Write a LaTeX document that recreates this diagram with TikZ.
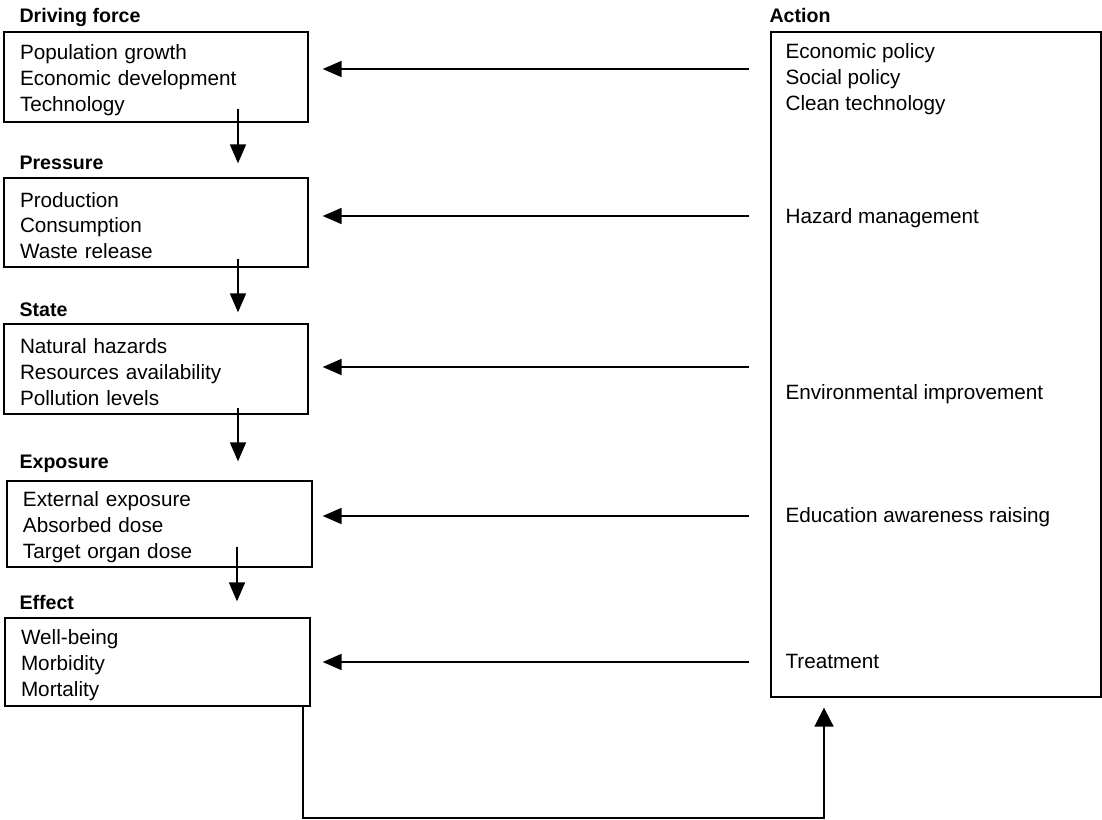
\documentclass[tikz,border=0pt]{standalone}
\usepackage{fontspec}
\setmainfont{Liberation Sans}
\usetikzlibrary{calc, arrows.meta}

\newcommand{\itemfont}{\fontsize{20.7}{25.8}\selectfont}
\newcommand{\headfont}{\fontsize{19.6}{24}\selectfont\bfseries}

\begin{document}
\begin{tikzpicture}[x=1pt, y=-1pt]

    \tikzstyle{box}=[draw=black, line width=1.3pt, rectangle, inner xsep=16pt, inner ysep=0pt, text width=272pt, align=left, font=\itemfont, execute at begin node={\rule{0pt}{21pt}}];
    \tikzstyle{head}=[anchor=base west, inner sep=0pt, font=\headfont];
    \tikzstyle{item}=[anchor=north west, inner sep=0pt, align=left, font=\itemfont];
    \tikzstyle{link}=[line width=1.8pt, -{Triangle[length=19pt, width=16pt]}];

    \useasboundingbox (0,0) rectangle (1102,819);

    \node[box, minimum height=90pt] (df) at (156,77) {Population growth\\Economic development\\Technology};
    \node[box, minimum height=89pt] (pr) at ($(df)+(0,145.5)$) {Production\\Consumption\\Waste release};
    \node[box, minimum height=90pt] (st) at ($(pr)+(0,146.5)$) {Natural hazards\\Resources availability\\Pollution levels};
    \node[box, minimum height=86pt, text width=273pt] (ex) at ($(st)+(3.5,155)$) {External exposure\\Absorbed dose\\Target organ dose};
    \node[box, minimum height=88pt, text width=273pt] (ef) at ($(ex)+(-2,138)$) {Well-being\\Morbidity\\Mortality};

    \node[draw=black, line width=1.3pt, minimum width=330pt, minimum height=665pt] (act) at (936,364.5) {};

    \node[head] (hdf) at ($(df.north west)+(16,-9)$) {Driving force};
    \node[head] (hpr) at ($(pr.north west)+(16,-8)$) {Pressure};
    \node[head] (hst) at ($(st.north west)+(16,-7)$) {State};
    \node[head] (hex) at ($(ex.north west)+(13,-12)$) {Exposure};
    \node[head] (hef) at ($(ef.north west)+(15,-8)$) {Effect};
    \node[head] (hact) at ($(act.north west)+(-1,-9)$) {Action};

    \node[item] (pol) at ($(act.north west)+(15,12)$) {Economic policy\\Social policy\\Clean technology};
    \node[item] (hm) at ($(act.north west)+(15,177)$) {Hazard management};
    \node[item] (ei) at ($(act.north west)+(15,353)$) {Environmental improvement};
    \node[item] (ea) at ($(act.north west)+(15,476)$) {Education awareness raising};
    \node[item] (tr) at ($(act.north west)+(15,623)$) {Treatment};

    % actions back onto the chain
    \foreach \b/\y in {df/69, pr/216, st/367, ex/516, ef/662} {
        \coordinate (a-\b) at ($(act.west |- 0,\y)+(-21,0)$);
        \draw[link] (a-\b) -- ($(a-\b -| df.east)+(14,0)$);
    }

    \draw[link] ($(df.south)+(82,-14)$) -- ($(pr.north)+(82,-14)$);
    \draw[link] ($(pr.south)+(82,-9)$) -- ($(st.north)+(82,-11)$);
    \draw[link] ($(st.south)+(82,-7)$) -- ($(ex.north)+(78.5,-19)$);
    \draw[link] ($(ex.south)+(77.5,-21)$) -- ($(ef.north)+(79.5,-16)$);

    \draw[link, -{Triangle[length=19pt, width=19pt]}] ($(ef.south east)+(-8,0)$) -- ++(0,111) -| ($(act.south)+(-112,10)$);
\end{tikzpicture}
\end{document}
